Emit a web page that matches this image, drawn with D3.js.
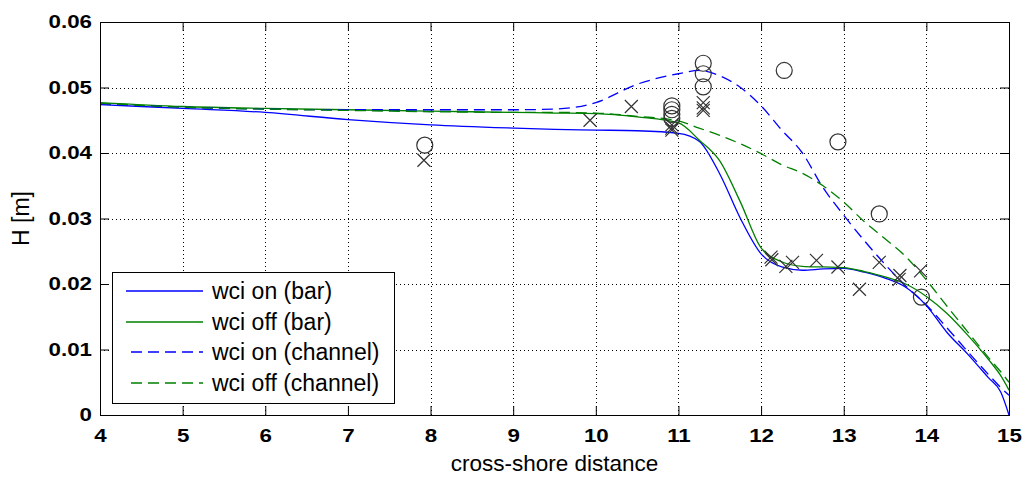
<!DOCTYPE html>
<html>
<head>
<meta charset="utf-8">
<script src="https://cdn.jsdelivr.net/npm/d3@7"></script>
<style>
  html, body { margin: 0; padding: 0; background: #fff; }
  svg { display: block; }
</style>
</head>
<body>
<svg id="chart" width="1026" height="477"></svg>
<script>
// ---------------- data ----------------
const xGrid = [4, 5, 6, 7, 8, 9, 9.5, 10, 10.5, 11, 11.25, 11.5, 11.75, 12, 12.25, 12.5, 12.75, 13, 13.25, 13.5, 13.75, 14, 14.25, 14.5, 14.75, 14.9, 15];

const wciOnBar = [0.0474, 0.0468, 0.0462, 0.0451, 0.0443, 0.0438, 0.0436, 0.0435, 0.0434, 0.0430, 0.0418, 0.0368, 0.0300, 0.0246, 0.0226, 0.0221, 0.0223, 0.0224, 0.0218, 0.0209, 0.0195, 0.0167, 0.0126, 0.0093, 0.0057, 0.0035, 0.0000];
const wciOffBar = [0.0477, 0.0471, 0.0468, 0.0466, 0.0464, 0.0462, 0.0461, 0.0460, 0.0455, 0.0446, 0.0420, 0.0388, 0.0325, 0.0255, 0.0234, 0.0227, 0.0226, 0.0225, 0.0219, 0.0211, 0.0200, 0.0181, 0.0155, 0.0122, 0.0085, 0.0060, 0.0038];
const wciOnChannel = [0.0475, 0.0470, 0.0467, 0.0466, 0.0466, 0.0466, 0.0467, 0.0477, 0.0505, 0.0521, 0.0526, 0.0518, 0.0500, 0.0472, 0.0435, 0.0400, 0.0347, 0.0305, 0.0266, 0.0230, 0.0197, 0.0168, 0.0133, 0.0097, 0.0062, 0.0042, 0.0030];
const wciOffChannel = [0.0476, 0.0470, 0.0467, 0.0465, 0.0463, 0.0462, 0.0462, 0.0461, 0.0456, 0.0449, 0.0438, 0.0427, 0.0414, 0.0399, 0.0382, 0.0369, 0.0350, 0.0325, 0.0295, 0.0269, 0.0242, 0.0206, 0.0166, 0.0127, 0.0088, 0.0066, 0.0050];

const circleX = [7.93, 10.92, 10.92, 10.92, 10.92, 11.30, 11.30, 11.30, 12.28, 12.93, 13.43, 13.94];
const circleY = [0.0412, 0.0472, 0.0466, 0.0459, 0.0453, 0.0537, 0.0521, 0.0501, 0.0526, 0.0417, 0.0307, 0.0180];

const crossX = [7.92, 9.93, 10.43, 10.92, 10.92, 10.92, 11.30, 11.30, 11.30, 12.12, 12.13, 12.30, 12.38, 12.67, 12.93, 13.19, 13.43, 13.68, 13.67, 13.93];
const crossY = [0.0389, 0.0450, 0.0471, 0.0443, 0.0438, 0.0435, 0.0477, 0.0469, 0.0465, 0.0241, 0.0237, 0.0227, 0.0233, 0.0236, 0.0226, 0.0192, 0.0233, 0.0213, 0.0207, 0.0220];

const xTicks = [4, 5, 6, 7, 8, 9, 10, 11, 12, 13, 14, 15];
const yTicks = [0, 0.01, 0.02, 0.03, 0.04, 0.05, 0.06];
const yTickLabels = ["0", "0.01", "0.02", "0.03", "0.04", "0.05", "0.06"];

const seriesNames = ["wci on (bar)", "wci off (bar)", "wci on (channel)", "wci off (channel)"];
const seriesColors = ["#0000ff", "#008000", "#0000ff", "#008000"];
const seriesDashed = [false, false, true, true];
const seriesValues = [wciOnBar, wciOffBar, wciOnChannel, wciOffChannel];

const xLabel = "cross-shore distance";
const yLabel = "H [m]";

// ---------------- layout ----------------
const L = 100, R = 1009, T = 22, B = 415;
const FONT = "'Liberation Sans', Arial, Helvetica, sans-serif";
const tickStretch = 1.2;

const svg = d3.select("#chart");
const x = d3.scaleLinear().domain([4, 15]).range([L, R]);
const y = d3.scaleLinear().domain([0, 0.06]).range([B, T]);

// grid
const grid = svg.append("g").attr("stroke", "#000").attr("stroke-width", 1)
  .attr("stroke-dasharray", "1,3").attr("shape-rendering", "crispEdges");
xTicks.slice(1, -1).forEach(t => {
  grid.append("line").attr("x1", Math.round(x(t)) + 0.5).attr("x2", Math.round(x(t)) + 0.5)
    .attr("y1", T).attr("y2", B);
});
yTicks.slice(1, -1).forEach(t => {
  grid.append("line").attr("y1", Math.round(y(t)) + 0.5).attr("y2", Math.round(y(t)) + 0.5)
    .attr("x1", L).attr("x2", R);
});

// lines
const line = d3.line().x((d, i) => x(xGrid[i])).y(d => y(d)).curve(d3.curveMonotoneX);
const plot = svg.append("g");
seriesValues.forEach((vals, k) => {
  plot.append("path").datum(vals)
    .attr("d", line)
    .attr("fill", "none")
    .attr("stroke", seriesColors[k])
    .attr("stroke-width", 1.3)
    .attr("stroke-dasharray", seriesDashed[k] ? "11,6" : null);
});

// markers
const mk = svg.append("g").attr("stroke", "#333").attr("stroke-width", 1.2).attr("fill", "none");
circleX.forEach((cx, i) => {
  mk.append("circle").attr("cx", x(cx)).attr("cy", y(circleY[i])).attr("r", 8);
});
const cs = 6.5;
crossX.forEach((cx, i) => {
  const px = x(cx), py = y(crossY[i]);
  mk.append("path").attr("d", `M${px - cs},${py - cs}L${px + cs},${py + cs}M${px - cs},${py + cs}L${px + cs},${py - cs}`);
});

// axes (ticks inward on all sides)
const styleAxis = g => {
  g.select(".domain").remove();
  g.selectAll(".tick line").attr("stroke", "#000").attr("stroke-width", 1);
  g.selectAll("text").attr("fill", "#000").attr("font-family", FONT).attr("font-size", 18.6).attr("font-weight", "bold");
};
const xAxis = svg.append("g").attr("transform", `translate(0,${B})`)
  .call(d3.axisBottom(x).tickValues(xTicks).tickFormat(d3.format("d")).tickSizeInner(-9).tickSizeOuter(0).tickPadding(14))
  .call(styleAxis);
xAxis.selectAll("text").attr("dy", "0.71em").attr("transform", `scale(${tickStretch},1)`);

const yAxis = svg.append("g").attr("transform", `translate(${L},0)`)
  .call(d3.axisLeft(y).tickValues(yTicks).tickFormat((d, i) => yTickLabels[i]).tickSizeInner(-9).tickSizeOuter(0).tickPadding(8 / tickStretch))
  .call(styleAxis);
yAxis.selectAll("text").attr("transform", `scale(${tickStretch},1)`);

svg.append("g").attr("transform", `translate(0,${T})`)
  .call(d3.axisTop(x).tickValues(xTicks).tickFormat("").tickSizeInner(-9).tickSizeOuter(0))
  .call(styleAxis);
svg.append("g").attr("transform", `translate(${R},0)`)
  .call(d3.axisRight(y).tickValues(yTicks).tickFormat("").tickSizeInner(-9).tickSizeOuter(0))
  .call(styleAxis);

// frame
svg.append("rect").attr("x", L + 0.5).attr("y", T + 0.5).attr("width", R - L).attr("height", B - T)
  .attr("fill", "none").attr("stroke", "#000").attr("stroke-width", 1);

// axis labels
svg.append("text").attr("x", (L + R) / 2).attr("y", 471).attr("text-anchor", "middle")
  .attr("font-family", FONT).attr("font-size", 22.5).attr("fill", "#000").text(xLabel);
svg.append("text").attr("transform", `translate(29,${(T + B) / 2}) rotate(-90)`).attr("text-anchor", "middle")
  .attr("font-family", FONT).attr("font-size", 23).attr("fill", "#000").text(yLabel);

// legend
const lg = svg.append("g");
lg.append("rect").attr("x", 112.5).attr("y", 272.5).attr("width", 282).attr("height", 131)
  .attr("fill", "#fff").attr("stroke", "#000").attr("stroke-width", 1);
const rowY = [291, 322, 352, 383];
seriesNames.forEach((name, k) => {
  lg.append("line").attr("x1", seriesDashed[k] ? 131 : 126).attr("x2", 203)
    .attr("y1", rowY[k]).attr("y2", rowY[k])
    .attr("stroke", seriesColors[k]).attr("stroke-width", 1.3)
    .attr("stroke-dasharray", seriesDashed[k] ? "11,6" : null);
  lg.append("text").attr("x", 212).attr("y", rowY[k] + 8)
    .attr("font-family", FONT).attr("font-size", 23).attr("fill", "#000").text(name);
});
</script>
</body>
</html>
